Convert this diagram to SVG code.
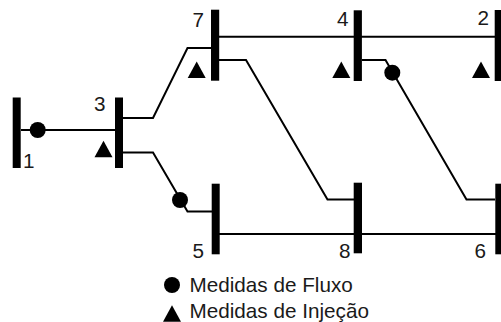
<svg xmlns="http://www.w3.org/2000/svg" width="501" height="322" viewBox="0 0 501 322">
<defs>
<style>
.bus{fill:#000}
.ln{fill:none;stroke:#000;stroke-width:2}
.m{fill:#000}
text{font-family:"Liberation Sans",Arial,sans-serif;font-size:20.700px;fill:#1a1a1a}
</style>
<path id="tri" d="M0 0L9 -16.500L18 0Z"/>
</defs>
<rect width="501" height="322" fill="#fff"/>
<g id="connectors">
<path class="ln" d="M21 130H115"/>
<path class="ln" d="M123 118H153L187.500 48H211"/>
<path class="ln" d="M123 152.500H153L187.500 211.500H212"/>
<path class="ln" d="M219 36.700H495"/>
<path class="ln" d="M219 60H246L327.500 199.500H354"/>
<path class="ln" d="M362 60H385.500L466.500 199.500H495"/>
<path class="ln" d="M219 234H496"/>
</g>
<g id="n1"><rect class="bus" x="12.700" y="97.500" width="8" height="70.500"/><text x="23" y="168">1</text></g>
<g id="n3"><rect class="bus" x="115" y="97.500" width="8" height="70.500"/><text x="94" y="111">3</text></g>
<g id="n7"><rect class="bus" x="211" y="9.700" width="8.200" height="71"/><text x="192.500" y="27">7</text></g>
<g id="n4"><rect class="bus" x="353.700" y="10.300" width="8.200" height="70.700"/><text x="337" y="26">4</text></g>
<g id="n2"><rect class="bus" x="494.700" y="10" width="6.300" height="71"/><text x="477.500" y="25">2</text></g>
<g id="n5"><rect class="bus" x="211.700" y="183.700" width="8" height="70.600"/><text x="192.500" y="257.500">5</text></g>
<g id="n8"><rect class="bus" x="353.700" y="182.700" width="8.300" height="70.600"/><text x="339" y="257.500">8</text></g>
<g id="n6"><rect class="bus" x="495.300" y="183.700" width="5.700" height="70.600"/><text x="474.500" y="257.500">6</text></g>
<g id="measures">
<circle class="m" cx="37.700" cy="130" r="8"/>
<circle class="m" cx="180" cy="200" r="8"/>
<circle class="m" cx="392.300" cy="72.700" r="8"/>
<use href="#tri" x="94.500" y="157.300"/>
<use href="#tri" x="187.700" y="78"/>
<use href="#tri" x="332.300" y="78"/>
<use href="#tri" x="472" y="78"/>
</g>
<g id="legend">
<circle class="m" cx="172" cy="285" r="8"/>
<text x="189.500" y="291.700">Medidas de Fluxo</text>
<use href="#tri" x="163" y="321.700"/>
<text x="189.500" y="317.700">Medidas de Injeção</text>
</g>
</svg>
